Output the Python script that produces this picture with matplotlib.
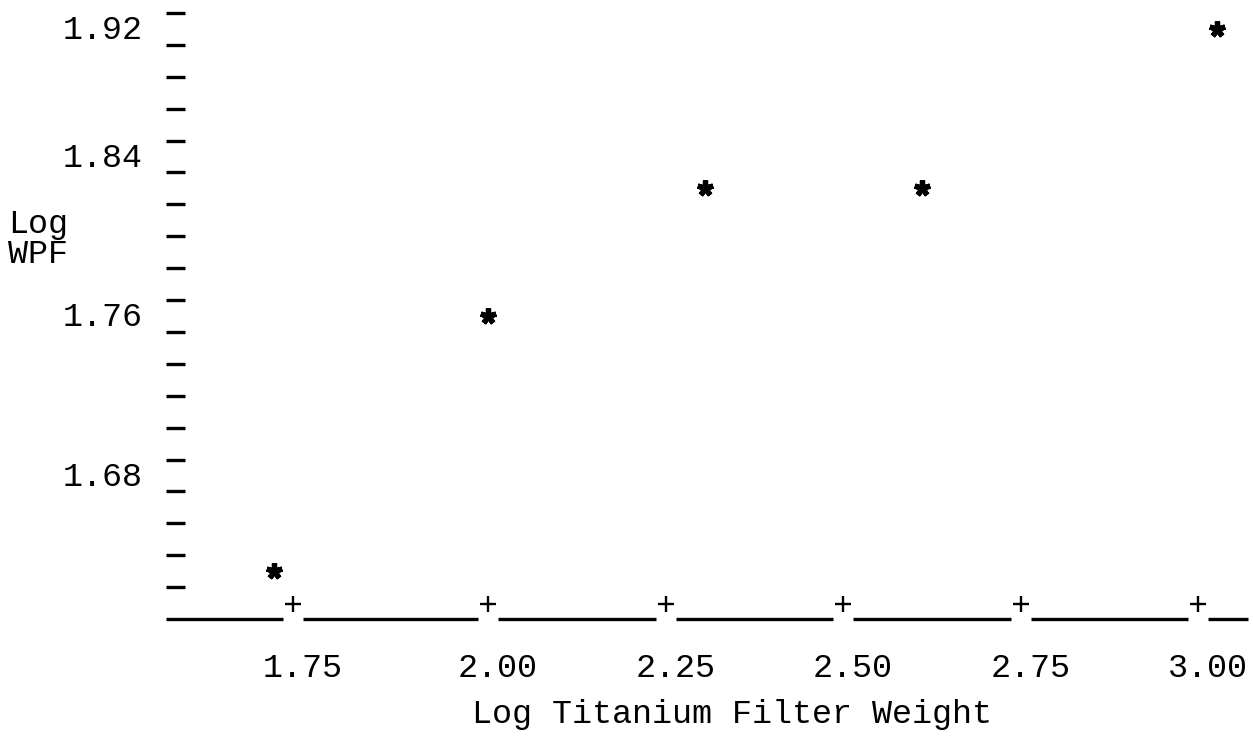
import numpy as np
import matplotlib
matplotlib.use("Agg")
import matplotlib.pyplot as plt
from matplotlib import transforms

# ---------------- data ----------------
x_vals = [1.726, 2.000, 2.305, 2.611, 3.026]
y_vals = [1.632, 1.760, 1.824, 1.824, 1.920]

x_ticks = [1.75, 2.00, 2.25, 2.50, 2.75, 3.00]
x_tick_labels = ["1.75", "2.00", "2.25", "2.50", "2.75", "3.00"]
y_ticks = [1.68, 1.76, 1.84, 1.92]
y_tick_labels = ["1.68", "1.76", "1.84", "1.92"]
x_label = "Log Titanium Filter Weight"
y_label_lines = ["Log", "WPF"]

# ---------------- line-printer grid (layout) ----------------
# printer column of each x tick and printer row of each y tick
x_tick_cols = [0, 11, 21, 31, 41, 51]
y_tick_rows = [14.5, 9.5, 4.5, 0.5]
COL0_PX, COL_W = 293.0, 17.75       # pixel of column 0, column width
ROW0_PX, ROW_H = 13.0, 31.894       # pixel of row 0, row height
W, H = 1253, 747
FONT = "Liberation Mono"
FS = 24
FW = "normal"


def pl(x, xp, fp):
    """piecewise linear with linear extrapolation"""
    x = np.asarray(x, dtype=float)
    xp = np.asarray(xp, dtype=float)
    fp = np.asarray(fp, dtype=float)
    y = np.interp(x, xp, fp)
    lo_s = (fp[1] - fp[0]) / (xp[1] - xp[0])
    hi_s = (fp[-1] - fp[-2]) / (xp[-1] - xp[-2])
    y = np.where(x < xp[0], fp[0] + (x - xp[0]) * lo_s, y)
    y = np.where(x > xp[-1], fp[-1] + (x - xp[-1]) * hi_s, y)
    return y


neg_rows = [-r for r in y_tick_rows]


def xf(v):
    return pl(v, x_ticks, x_tick_cols)


def xi(c):
    return pl(c, x_tick_cols, x_ticks)


def yf(v):
    return pl(v, y_ticks, neg_rows)


def yi(r):
    return pl(r, neg_rows, y_ticks)


def px_to_x(px):
    return xi((np.asarray(px, float) - COL0_PX) / COL_W)


def py_to_y(py):
    return yi(-(np.asarray(py, float) - ROW0_PX) / ROW_H)


fig = plt.figure(figsize=(W / 100, H / 100), dpi=100)
fig.patch.set_facecolor("white")
ax = fig.add_axes([0, 0, 1, 1])
ax.set_xscale("function", functions=(xf, xi))
ax.set_yscale("function", functions=(yf, yi))
ax.set_xlim(float(px_to_x(0)), float(px_to_x(W)))
ax.set_ylim(float(py_to_y(H)), float(py_to_y(0)))
ax.axis("off")

# vertical axis: a dash on every printer row
rows = np.arange(0, 19)
ax.hlines(yi(-rows), float(px_to_x(166)), float(px_to_x(185)),
          colors="black", linewidth=2.4)

# horizontal axis: underscores broken by the '+' tick marks
base_y = float(py_to_y(619))
tick_px = [COL0_PX + COL_W * c for c in x_tick_cols]
starts = [166] + [p + 10 for p in tick_px]
ends = [p - 10 for p in tick_px] + [1248]
for s, e in zip(starts, ends):
    ax.plot([float(px_to_x(s)), float(px_to_x(e))], [base_y, base_y],
            color="black", linewidth=2.4, solid_capstyle="butt")
plus_y = float(py_to_y(604))
ax.plot(x_ticks, [plus_y] * len(x_ticks), linestyle="none", marker="+",
        markersize=12, markeredgewidth=1.7, color="black")

# data points
ax.plot(x_vals, y_vals, linestyle="none", marker=(5, 2, 0), markersize=11.5,
        markeredgewidth=3.8, color="black")

# y tick labels
T_y = transforms.blended_transform_factory(fig.transFigure, ax.transData)
T_y = transforms.offset_copy(T_y, fig=fig, x=0, y=-10.5, units="dots")
for v, lab in zip(y_ticks, y_tick_labels):
    ax.text(143 / W, v, lab, transform=T_y, ha="right", va="baseline",
            fontsize=FS, family=FONT, fontweight=FW, color="black")

# x tick labels
T_x = transforms.blended_transform_factory(ax.transData, fig.transFigure)
T_x = transforms.offset_copy(T_x, fig=fig, x=9.5, y=0, units="dots")
for v, lab in zip(x_ticks, x_tick_labels):
    ax.text(v, 1 - 677 / H, lab, transform=T_x, ha="center", va="baseline",
            fontsize=FS, family=FONT, fontweight=FW, color="black")

# axis titles
fig.text(732 / W, 1 - 723 / H, x_label, ha="center", va="baseline",
         fontsize=FS, family=FONT, fontweight=FW, color="black")
for i, line in enumerate(y_label_lines):
    fig.text(8 / W, 1 - (233 + 30 * i) / H, line, ha="left", va="baseline",
             fontsize=FS, family=FONT, fontweight=FW, color="black")

fig.savefig("out.png", dpi=100, facecolor="white")
